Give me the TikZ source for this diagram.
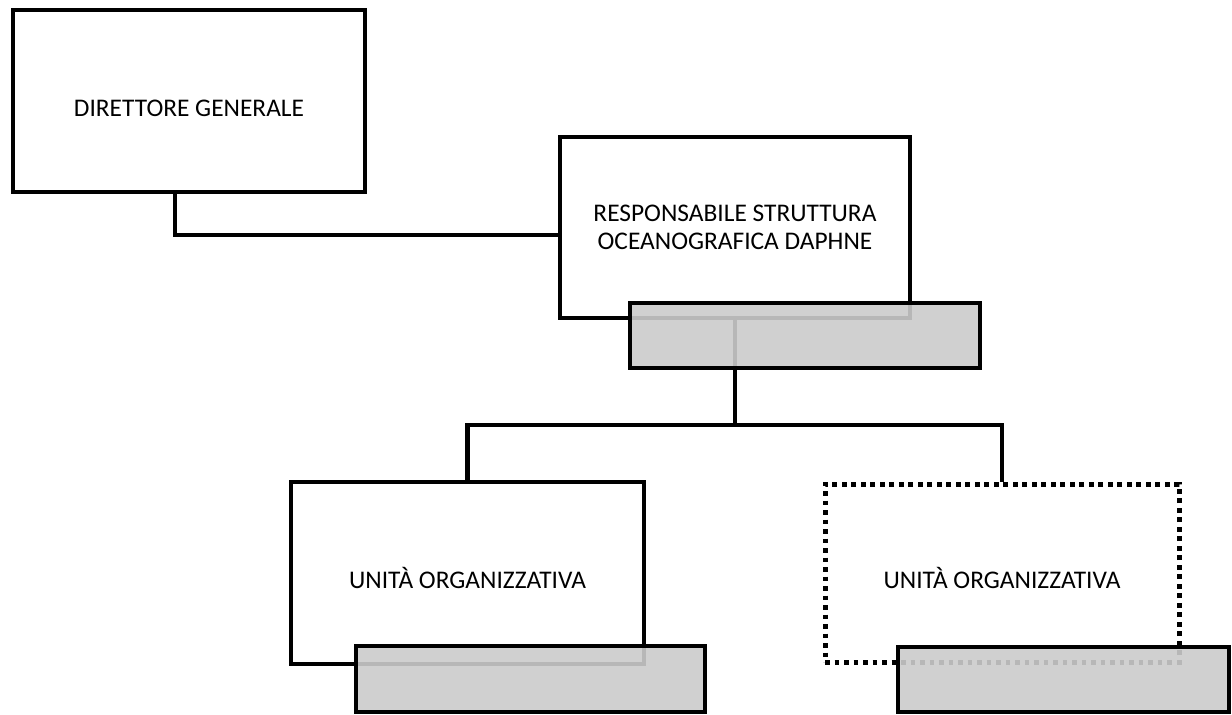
\documentclass[tikz,border=0pt]{standalone}
\usepackage{fontspec}
\setmainfont{Carlito}
\usepackage{tikz}
\usetikzlibrary{positioning}
\definecolor{shadegray}{RGB}{203,203,203}
\newcommand{\orgfont}{\fontsize{12.7}{14.2}\selectfont}

\begin{document}
\begin{tikzpicture}[x=0.5pt, y=-0.5pt,
    box/.style={rectangle, draw, line width=2.35pt, inner sep=0pt, align=center, font=\orgfont},
    lowtext/.style={text height=15pt, text depth=0pt},
    dotbox/.style={box, line width=2.5pt, dash pattern=on 2.3pt off 2.45pt},
    shadebox/.style={rectangle, draw, line width=2.35pt, fill=shadegray, fill opacity=0.9},
    link/.style={line width=2.2pt}
]
\useasboundingbox (0,0) rectangle (1232,714);

\node[box, lowtext, minimum width=176pt, minimum height=91pt] (direttore) at (189,101) {DIRETTORE GENERALE};
\node[box, minimum width=175pt, minimum height=90.5pt] (responsabile) at (735,227.5) {RESPONSABILE STRUTTURA\\OCEANOGRAFICA DAPHNE};
\node[box, lowtext, minimum width=176.5pt, minimum height=91pt] (unita1) at (467.5,573) {UNITÀ ORGANIZZATIVA};
\node[dotbox, lowtext, minimum width=177pt, minimum height=89pt] (unita2) at (1002,573) {UNITÀ ORGANIZZATIVA};

\coordinate (bar) at (735,425);

\draw[link] ([xshift=-7pt]direttore.south) |- ([yshift=-3.75pt]responsabile.west);
\draw[link] (responsabile.south) -- (bar);
\draw[link] (unita1.north) |- (bar) -| (unita2.north);

\node[shadebox, minimum width=175pt, minimum height=32.5pt] (shade1) at (805,335.5) {};
\node[shadebox, minimum width=174.5pt, minimum height=33pt] (shade2) at (530.5,679) {};
\node[shadebox, minimum width=165.5pt, minimum height=32.5pt] (shade3) at (1063.5,679.5) {};

\end{tikzpicture}
\end{document}
